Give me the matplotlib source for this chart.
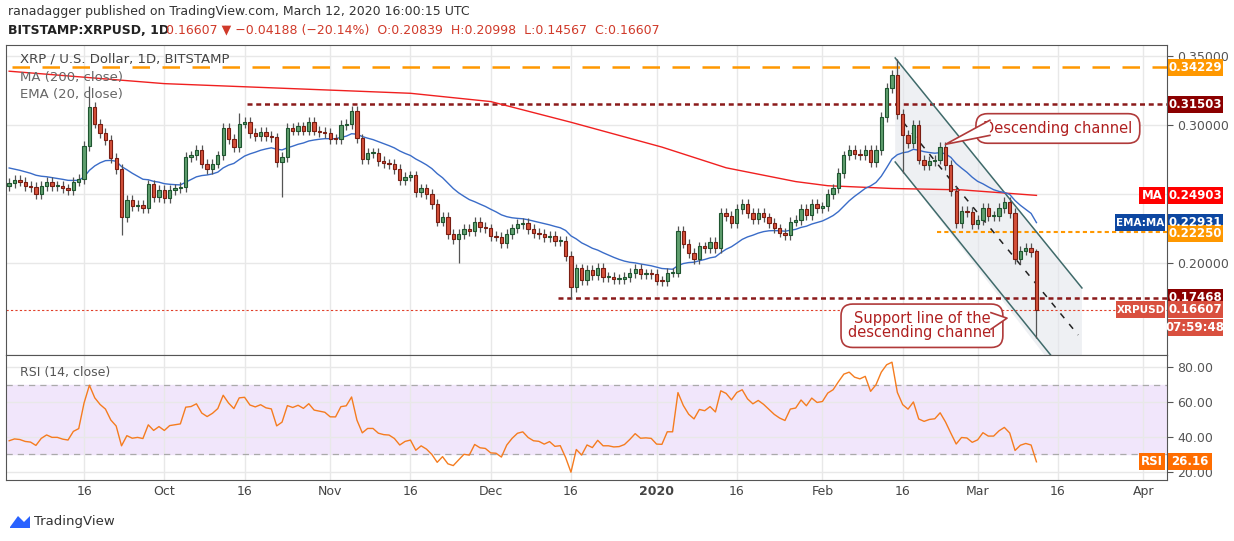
import matplotlib
matplotlib.use("Agg")
import matplotlib.pyplot as plt
import numpy as np
import pandas as pd
from matplotlib.patches import Rectangle, Polygon

# ---------------- data (day index 1 = 2019-09-02, 193 = 2020-03-12) -------------
closes_sep_oct = [0.258,0.260,0.259,0.256,0.255,0.250,0.256,0.259,0.256,0.256,0.254,0.253,0.259,0.261,
                  0.285,0.313,0.301,0.294,0.289,0.276,0.268,0.233,0.246,0.241,0.242,0.240,0.257,0.248,
                  0.253,0.247,0.253,0.254,0.255,0.277,0.278,0.282,0.272,0.268,0.272,0.278,0.298,0.290,
                  0.284,0.301,0.302,0.294,0.292,0.295,0.292,0.291,0.273,0.277,0.298,0.296,0.299,0.296,
                  0.302,0.296,0.295,0.294,0.290]
closes_nov_dec = [0.2899,0.2998,0.3007,0.3104,0.2903,0.2751,0.2795,0.2795,0.2739,0.2722,0.2717,0.2679,
                  0.2601,0.2626,0.2635,0.2512,0.2541,0.2500,0.2428,0.2300,0.2336,0.2208,0.2172,0.2208,
                  0.2244,0.2232,0.2300,0.2259,0.2251,0.2196,0.2191,0.2143,0.2210,0.2251,0.2283,0.2292,
                  0.2244,0.2215,0.2210,0.2186,0.2198,0.2159,0.2162,0.2051,0.1824,0.1961,0.1877,0.1949,
                  0.1913,0.1966,0.1896,0.1896,0.1882,0.1884,0.1896,0.1925,0.1959,0.1920,0.1922,0.1918,
                  0.1872]
closes_jan_mar = [0.187,0.193,0.193,0.223,0.214,0.207,0.203,0.212,0.211,0.215,0.211,0.236,0.234,0.229,
                  0.239,0.243,0.236,0.232,0.236,0.233,0.229,0.225,0.222,0.220,0.230,0.231,0.239,0.235,
                  0.243,0.240,0.241,0.250,0.254,0.265,0.278,0.282,0.279,0.278,0.282,0.273,0.282,0.306,
                  0.327,0.336,0.308,0.293,0.287,0.300,0.275,0.271,0.274,0.275,0.284,0.271,0.252,0.229,
                  0.238,0.237,0.228,0.231,0.240,0.234,0.234,0.240,0.244,0.236,0.203,0.209,0.211,0.208,
                  0.16607]
closes = np.array(closes_sep_oct + closes_nov_dec + closes_jan_mar)
first_open = 0.256
last_open, last_high, last_low = 0.20839, 0.20998, 0.14567
long_highs = {16: 0.328, 44: 0.309, 65: 0.312, 167: 0.348, 166: 0.340}
long_lows = {22: 0.220, 52: 0.248, 85: 0.200, 106: 0.174, 168: 0.265, 193: 0.14567}
ma200_days = [1, 30, 63, 76, 91, 106, 123, 135, 148, 154, 166, 179, 193]
ma200_vals = [0.339, 0.330, 0.325, 0.323, 0.317, 0.302, 0.284, 0.269, 0.259, 0.256, 0.254, 0.253, 0.249]
ema_seed = 0.270
level_orange_top = 0.34229
level_red_top = 0.31503
level_orange_mid = 0.22250
level_red_low = 0.17468
last_price = 0.16607
ma_last, ema_last, rsi_last = 0.24903, 0.22931, 26.16
chan_upper = [(166.6, 0.3486), (201.5, 0.1819)]
chan_lower = [(166.6, 0.2732), (198.0, 0.1220)]
chan_mid = [(168.1, 0.302), (200.8, 0.1478)]
tick_days = [15, 30, 45, 61, 76, 91, 106, 122, 137, 153, 168, 182, 197, 213]
tick_labels = ["16", "Oct", "16", "Nov", "16", "Dec", "16", "2020", "16", "Feb", "16", "Mar", "16", "Apr"]
price_ticks = [0.20, 0.30, 0.35]
rsi_ticks = [20, 40, 60, 80]

# ---------------- derived series ----------------
n = len(closes)
days = np.arange(1, n + 1)
opens = np.concatenate([[first_open], closes[:-1]])
opens[-1] = last_open
highs = np.maximum(opens, closes) + 0.0035
lows = np.minimum(opens, closes) - 0.0035
for d, v in long_highs.items(): highs[d-1] = max(highs[d-1], v)
for d, v in long_lows.items(): lows[d-1] = min(lows[d-1], v)
highs[-1] = last_high

ema = []
e = ema_seed
for c in closes:
    e = e + (c - e) * 2 / 21
    ema.append(e)
ema = np.array(ema)

delta = np.diff(np.concatenate([[first_open], closes]))
ag, al = 0.0035, 0.0060
rsi = []
for dv in delta:
    ag = (ag * 13 + max(dv, 0)) / 14
    al = (al * 13 + max(-dv, 0)) / 14
    rsi.append(100 - 100 / (1 + ag / al))
rsi = np.array(rsi)

# ---------------- figure ----------------
W, H = 1234, 541
fig = plt.figure(figsize=(W/100, H/100), dpi=100)
L, R = 6/W, 1167/W
axp = fig.add_axes([L, 1-355/H, R-L, (355-45)/H])
axr = fig.add_axes([L, 1-480/H, R-L, (480-355)/H], sharex=axp)
XL = (0.41, 217.4)
axp.set_xlim(*XL)
axp.set_ylim(0.1333, 0.3580)
axr.set_ylim(15.4, 86.9)

for ax in (axp, axr):
    ax.grid(color='#e8e8e8', lw=1)
    ax.set_axisbelow(True)
    for s in ax.spines.values():
        s.set_color('#555555')
    ax.yaxis.tick_right()
    ax.tick_params(axis='y', colors='#555555', labelsize=9, length=4, direction='out')
    ax.tick_params(axis='x', length=0)
axp.tick_params(axis='x', labelbottom=False)
axp.set_yticks([0.20, 0.25, 0.30, 0.35])
axp.set_yticklabels(["0.20000", "", "0.30000", "0.35000"])
axr.set_yticks(rsi_ticks)
axr.set_yticklabels([f"{v:.2f}" for v in rsi_ticks])
axr.set_xticks(tick_days)
axr.set_xticklabels(tick_labels, fontsize=9, color='#444444')
for lbl in axr.get_xticklabels():
    if lbl.get_text() == "2020":
        lbl.set_fontweight('bold')

# channel shading
up, lo = chan_upper, chan_lower
poly = Polygon([up[0], (201.5, up[1][1]), (201.5, 0.1333), (194.5, 0.1333), lo[0]],
               closed=True, facecolor='#e3e6ec', alpha=0.6, edgecolor='none', zorder=1)
axp.add_patch(poly)
axp.plot([p[0] for p in up], [p[1] for p in up], color='#3f6a6a', lw=1.1, zorder=3)
axp.plot([p[0] for p in lo], [p[1] for p in lo], color='#3f6a6a', lw=1.1, zorder=3)
axp.plot([p[0] for p in chan_mid], [p[1] for p in chan_mid], color='#222222', lw=1.1,
         ls=(0, (4, 5)), zorder=3)

# horizontal levels
axp.hlines(level_orange_top, 1.5, XL[1], color='#ff9800', lw=1.8, ls=(0, (7, 5)), zorder=2)
axp.hlines(level_red_top, 45.5, XL[1], color='#8b1a1a', lw=1.8, ls=(0, (2, 1.5)), zorder=2)
axp.hlines(level_orange_mid, 174.5, XL[1], color='#ff9800', lw=1.5, ls=(0, (2, 1.5)), zorder=2)
axp.hlines(level_red_low, 103.5, XL[1], color='#8b1a1a', lw=1.8, ls=(0, (2, 1.5)), zorder=2)
axp.axhline(last_price, color='#e0402a', lw=0.8, ls=(0, (2, 2)), zorder=2)

# MA & EMA
axp.plot(ma200_days, ma200_vals, color='#f02020', lw=1.0, zorder=4)
axp.plot(days, ema, color='#3a6cc8', lw=1.0, zorder=4)

# candles
bw = 0.62
for d, o, h, l, c in zip(days, opens, highs, lows, closes):
    up_c = c >= o
    fc = '#5f9f6e' if up_c else '#d4503a'
    ec = '#1f5530' if up_c else '#7a1d12'
    axp.vlines(d, l, h, color='#555555', lw=0.9, zorder=5)
    axp.add_patch(Rectangle((d - bw/2, min(o, c)), bw, max(abs(c - o), 0.0006),
                            facecolor=fc, edgecolor=ec, lw=0.8, zorder=6))

# callouts
def callout(ax, xy_text, tip, txt, base):
    ax.text(*xy_text, txt, color='#b02020', fontsize=10.5, ha='center', va='center', zorder=10,
            linespacing=0.9,
            bbox=dict(boxstyle='round,pad=0.5,rounding_size=0.8', fc='white', ec='#b03a3a', lw=1.2))
    ax.add_patch(Polygon([base[0], tip, base[1]], closed=True, fc='white', ec='none', zorder=11))
    ax.plot([base[0][0], tip[0], base[1][0]], [base[0][1], tip[1], base[1][1]],
            color='#b03a3a', lw=1.2, zorder=12)
callout(axp, (197.0, 0.2975), (176.0, 0.2860), "Descending channel",
        [(184.3, 0.3035), (184.3, 0.2925)])
callout(axp, (171.6, 0.1545), (187.5, 0.1600), "Support line of the\ndescending channel",
        [(184.5, 0.1640), (184.5, 0.1520)])

# RSI
axr.axhspan(30, 70, color='#f1e6fb', zorder=0)
axr.axhline(70, color='#aaaaaa', lw=0.9, ls=(0, (5, 4)))
axr.axhline(30, color='#aaaaaa', lw=0.9, ls=(0, (5, 4)))
axr.plot(days, rsi, color='#f57c1f', lw=1.0, zorder=4)

# texts
fig.text(8/W, 1-12/H, "ranadagger published on TradingView.com, March 12, 2020 16:00:15 UTC",
         fontsize=9, color='#333333', va='center')
fig.text(8/W, 1-30/H, "BITSTAMP:XRPUSD, 1D", fontsize=9, fontweight='bold', color='#222222', va='center')
fig.text(166/W, 1-30/H, "0.16607 \u25bc \u22120.04188 (\u221220.14%)  O:0.20839  H:0.20998  L:0.14567  C:0.16607",
         fontsize=9, color='#d03a2a', va='center')
axp.text(0.012, 0.955, "XRP / U.S. Dollar, 1D, BITSTAMP", transform=axp.transAxes, fontsize=9.5,
         color='#444444', va='center', zorder=12)
axp.text(0.012, 0.895, "MA (200, close)", transform=axp.transAxes, fontsize=9.5, color='#666666', va='center', zorder=12)
axp.text(0.012, 0.840, "EMA (20, close)", transform=axp.transAxes, fontsize=9.5, color='#666666', va='center', zorder=12)
axr.text(0.012, 0.86, "RSI (14, close)", transform=axr.transAxes, fontsize=9, color='#555555', va='center')

# overlay axes (pixel coordinates) for tags and logo
ov = fig.add_axes([0, 0, 1, 1], zorder=50)
ov.set_xlim(0, W)
ov.set_ylim(H, 0)
ov.axis('off')
ov.patch.set_alpha(0)
ov.text(34, 522, "TradingView", fontsize=9.5, color='#333333', va='center')
ov.add_patch(Polygon([(10, 527), (18, 516), (24, 522), (30, 516), (30, 528), (10, 528)],
                     closed=True, fc='#2962ff', ec='none'))

def py(p):
    return 56 + (0.35 - p) * 1380
def ry(v):
    return 367 + (80 - v) * 1.75
def tag(y, txt, bg, x0=1168, x1=1223, fs=8.5):
    ov.add_patch(Rectangle((x0, y - 8.5), x1 - x0, 17, fc=bg, ec='none'))
    ov.text((x0 + x1) / 2, y, txt, color='white', fontsize=fs, fontweight='bold',
            ha='center', va='center')
tag(py(level_orange_top) + 1, f"{level_orange_top:.5f}", '#ff9800')
tag(py(level_red_top), f"{level_red_top:.5f}", '#8b0000')
tag(py(ma_last), f"{ma_last:.5f}", '#ff0000')
tag(py(ma_last), "MA", '#ff0000', 1139, 1165)
tag(py(ema_last), f"{ema_last:.5f}", '#0d47a1')
tag(py(ema_last), "EMA:MA", '#0d47a1', 1115, 1165, 7.5)
tag(py(level_orange_mid) + 1.5, f"{level_orange_mid:.5f}", '#ff9800')
tag(py(level_red_low), f"{level_red_low:.5f}", '#8b0000')
tag(py(last_price), f"{last_price:.5f}", '#d9503f')
tag(py(last_price), "XRPUSD", '#d9503f', 1116, 1165, 7.5)
tag(py(last_price) + 18, "07:59:48", '#d9503f')
tag(ry(rsi_last), f"{rsi_last:.2f}", '#ff6d00', 1168, 1212)
tag(ry(rsi_last), "RSI", '#ff6d00', 1139, 1165)

fig.savefig("out.png", dpi=100)
